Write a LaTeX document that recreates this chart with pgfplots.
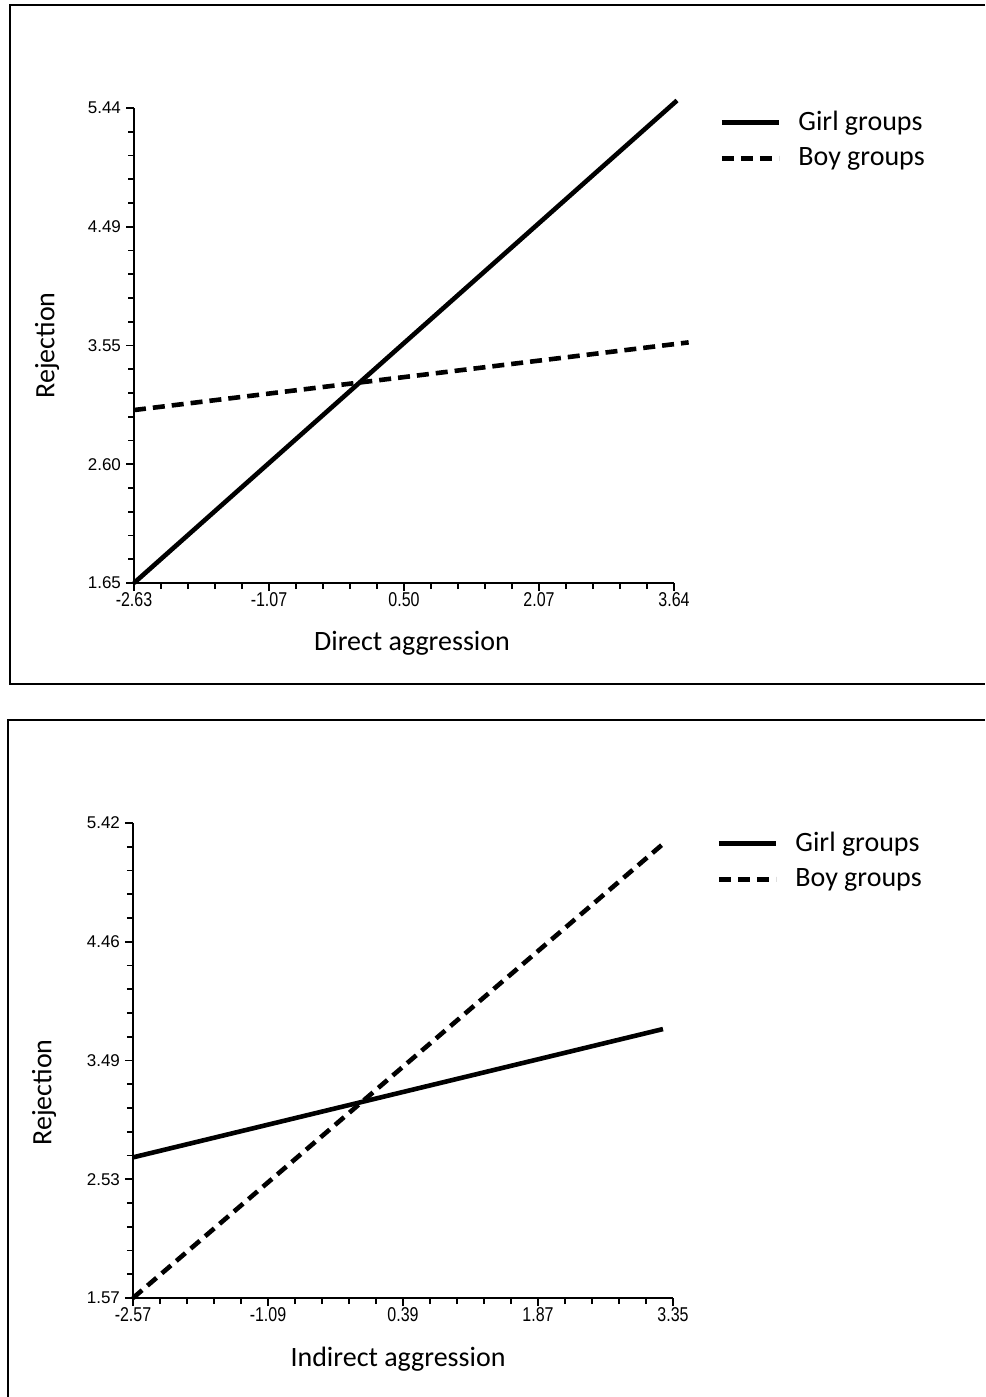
\documentclass[border=0pt]{standalone}
\usepackage{fontspec}
\setmainfont{Carlito}
\newfontfamily\xticksf[FakeStretch=0.8]{Liberation Sans}
\newfontfamily\yticksf{Liberation Sans}
\usepackage{pgfplots}
\pgfplotsset{compat=1.18}

\pgfplotsset{myaxis/.style={
  scale only axis, width=270pt, height=237.5pt,
  axis x line=bottom, axis y line=left,
  axis line style={-, line width=1pt},
  tick align=outside,
  major tick length=4pt, minor tick length=3pt,
  every tick/.style={black, line width=0.8pt},
  xticklabel style={font=\xticksf\fontsize{10}{12}\selectfont, yshift=3pt},
  yticklabel style={font=\yticksf\fontsize{8.5}{10}\selectfont, xshift=1pt},
  label style={font=\fontsize{14}{16}\selectfont},
  legend style={draw=none, fill=none, font=\fontsize{14}{16}\selectfont,
    anchor=north west, row sep=3pt, inner sep=0pt,
    /tikz/every odd column/.append style={column sep=6.5pt}},
  legend cell align=left,
  legend image code/.code={\draw[#1, line width=2.5pt] (0pt,0pt) -- (28.5pt,0pt);},
  clip=false,
  girl/.style={black, line width=2.3pt},
  boy/.style={black, line width=2.3pt, dash pattern=on 6pt off 3.5pt},
}}

\begin{document}
\begin{tikzpicture}
\useasboundingbox (0,0) rectangle (492.5pt,-698.5pt);
\draw[line width=1pt] (492.5pt,-2.5pt) -- (5pt,-2.5pt) -- (5pt,-342pt) -- (492.5pt,-342pt);
\draw[line width=1pt] (492.5pt,-360pt) -- (4pt,-360pt) -- (4pt,-698.5pt);

\begin{axis}[myaxis, at={(67pt,-291.5pt)}, anchor=south west,
  xmin=-2.63, xmax=3.64, ymin=1.65, ymax=5.44,
  xtick={-2.63,-1.0625,0.505,2.0725,3.64},
  xticklabels={-2.63,-1.07,0.50,2.07,3.64},
  minor xtick={-2.3165,-2.003,-1.6895,-1.376,-0.749,-0.4355,-0.122,0.1915,0.8185,1.132,1.4455,1.759,2.386,2.6995,3.013,3.3265},
  ytick={1.65,2.5975,3.545,4.4925,5.44},
  yticklabels={1.65,2.60,3.55,4.49,5.44},
  minor ytick={1.8395,2.029,2.2185,2.408,2.787,2.9765,3.166,3.3555,3.7345,3.924,4.1135,4.303,4.682,4.8715,5.061,5.2505},
  xlabel={Direct aggression}, ylabel={Rejection},
  xlabel style={at={(axis description cs:0.5,0)}, anchor=center, yshift=-30pt, xshift=4pt},
  ylabel style={at={(axis description cs:0,0.5)}, anchor=center, yshift=43.5pt},
  legend style={at={(axis description cs:1,1)}, xshift=22.5pt, yshift=0.5pt},
]
\addplot[girl] coordinates {(-2.63,1.65) (3.675,5.50)};
\addlegendentry{Girl groups}
\addplot[boy] coordinates {(-2.63,3.03) (3.81,3.57)};
\addlegendentry{Boy groups}
\end{axis}

\begin{axis}[myaxis, at={(66.5pt,-649pt)}, anchor=south west,
  xmin=-2.57, xmax=3.35, ymin=1.57, ymax=5.42,
  xtick={-2.57,-1.09,0.39,1.87,3.35},
  xticklabels={-2.57,-1.09,0.39,1.87,3.35},
  minor xtick={-2.274,-1.978,-1.682,-1.386,-0.794,-0.498,-0.202,0.094,0.686,0.982,1.278,1.574,2.166,2.462,2.758,3.054},
  ytick={1.57,2.5325,3.495,4.4575,5.42},
  yticklabels={1.57,2.53,3.49,4.46,5.42},
  minor ytick={1.7625,1.955,2.1475,2.34,2.725,2.9175,3.11,3.3025,3.6875,3.88,4.0725,4.265,4.65,4.8425,5.035,5.2275},
  xlabel={Indirect aggression}, ylabel={Rejection},
  xlabel style={at={(axis description cs:0.5,0)}, anchor=center, yshift=-30.5pt, xshift=-2.5pt},
  ylabel style={at={(axis description cs:0,0.5)}, anchor=center, yshift=44.5pt, xshift=-16pt},
  legend style={at={(axis description cs:1,1)}, xshift=21.5pt, yshift=-2.5pt},
]
\addplot[girl] coordinates {(-2.57,2.71) (3.24,3.75)};
\addlegendentry{Girl groups}
\addplot[boy] coordinates {(-2.57,1.57) (3.24,5.25)};
\addlegendentry{Boy groups}
\end{axis}
\end{tikzpicture}
\end{document}
